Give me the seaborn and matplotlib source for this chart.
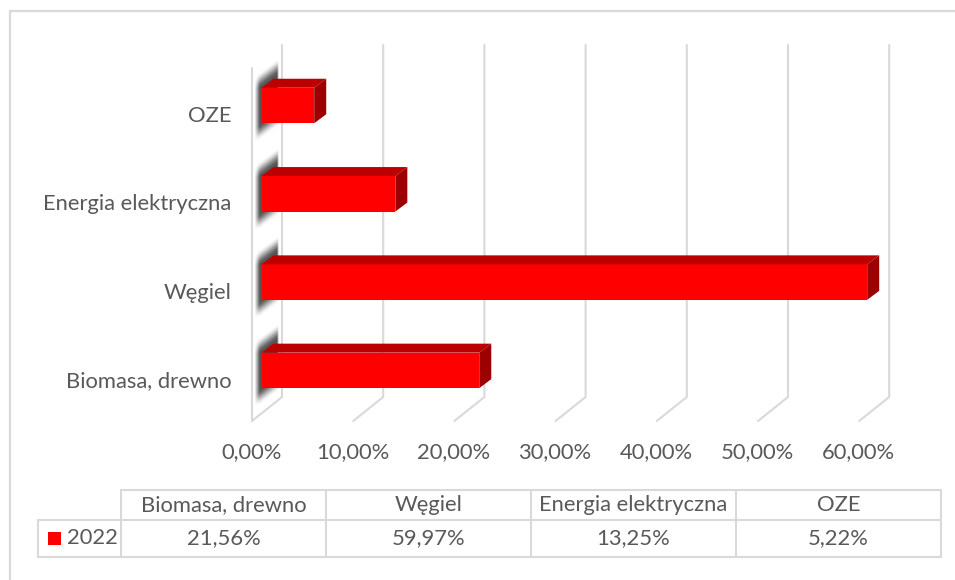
import numpy as np
import pandas as pd
import matplotlib
matplotlib.use("Agg")
import matplotlib.pyplot as plt
from matplotlib.patches import Polygon, Rectangle
from matplotlib.transforms import IdentityTransform, ScaledTranslation
import seaborn as sns

# ---- data ----
categories = ["OZE", "Energia elektryczna", "Węgiel", "Biomasa, drewno"]
values = [5.22, 13.25, 59.97, 21.56]
table_cols = ["Biomasa, drewno", "Węgiel", "Energia elektryczna", "OZE"]
table_vals = ["21,56%", "59,97%", "13,25%", "5,22%"]
series_name = "2022"
x_ticks = [0, 10, 20, 30, 40, 50, 60]
x_labels = ["0,00%", "10,00%", "20,00%", "30,00%", "40,00%", "50,00%", "60,00%"]

W, H = 955, 580
GRID = "#D9D9D9"
TXT = "#595959"
FS = 15.8

sns.set_theme(style="white")
plt.rcParams["font.family"] = ["Lato", "DejaVu Sans"]

fig = plt.figure(figsize=(W / 100, H / 100), dpi=100, facecolor="white")

# overlay in pixel coordinates for frame, wall, floor and table
bg = fig.add_axes([0, 0, 1, 1], zorder=0)
bg.set_xlim(0, W)
bg.set_ylim(H, 0)
bg.axis("off")

# main plot area: 0 % at x=261.5 px, 10.1 px per 1 %, categories 88.3 px apart
X0, PX = 261.5, 10.1
Y0, PY = 105.5, 88.3
left, right = X0, X0 + 66 * PX
top, bot = Y0 - PY / 2, Y0 + 3.5 * PY
ax = fig.add_axes([left / W, 1 - bot / H, (right - left) / W, (bot - top) / H], zorder=2)
ax.patch.set_alpha(0)

df = pd.DataFrame({"cat": categories, "val": values})
sns.barplot(data=df, y="cat", x="val", order=categories, color="#FF0000", saturation=1,
            width=35.5 / PY, linewidth=0, edgecolor="none", ax=ax)
ax.set_xlim(0, 66)
ax.set_ylim(3.5, -0.5)
ax.set_xlabel("")
ax.set_ylabel("")
for s in ax.spines.values():
    s.set_visible(False)
ax.set_xticks(x_ticks)
ax.set_xticklabels(x_labels, fontsize=FS, color=TXT)
ax.tick_params(axis="x", length=0, pad=0)
ax.tick_params(axis="y", length=0, pad=30 * 0.72, labelsize=FS, labelcolor=TXT)
# tick labels sit below the front floor edge, 10 px left of the bar origin
shift = ScaledTranslation(-9.5 / 100, -(442 - bot) / 100, fig.dpi_scale_trans)
for lab in ax.get_xticklabels():
    lab.set_transform(lab.get_transform() + shift)
yshift = ScaledTranslation(0, -8.5 / 100, fig.dpi_scale_trans)
for lab in ax.get_yticklabels():
    lab.set_transform(lab.get_transform() + yshift)

# frame
bg.plot([10, 10, W], [H, 10.5, 10.5], color=GRID, lw=1.6, solid_capstyle="butt")

# gridlines and floor
for t in x_ticks:
    xb = 282 + t * 10.12
    bg.plot([xb, xb, xb - 30], [45, 397, 421], color=GRID, lw=1.5, solid_joinstyle="miter")
bg.plot([252, 252], [68, 421], color=GRID, lw=1.5)

# shadow on the side wall, drawn per bar
DX, DY = 12, 9
fig.canvas.draw()
ny, nx = 200, 52
for p in ax.patches:
    b = p.get_window_extent()
    cy = H - (b.y0 + b.y1) / 2
    yy, xx = np.mgrid[0:ny, 0:nx]
    px_x = 254 + xx * 26 / nx
    px_y = cy - 50 + yy * 100 / ny
    skew = (px_x - 266) * (-0.75)
    d = np.abs(px_y - (cy - 4) - skew)
    u = np.clip((34 - d) / 16, 0, 1)
    a_y = u * u * (3 - 2 * u)
    a_x = np.clip((px_x - 254.5) / 5, 0, 1) * np.clip((278.5 - px_x) / 1.5, 0, 1)
    rgba = np.zeros((ny, nx, 4))
    rgba[..., :3] = 0.33
    rgba[..., 3] = a_y * a_x
    bg.imshow(rgba, extent=(254, 280, cy + 50, cy - 50), aspect="auto", zorder=1,
              interpolation="bilinear")
bg.set_xlim(0, W)
bg.set_ylim(H, 0)

# 3-D faces of each bar, taken from the bar itself
for p in ax.patches:
    b = p.get_window_extent()
    ax.add_patch(Polygon([(b.x0, b.y1), (b.x1, b.y1), (b.x1 + DX, b.y1 + DY), (b.x0 + DX, b.y1 + DY)],
                         closed=True, fc="#BC0000", ec="none", transform=IdentityTransform(),
                         clip_on=False))
    ax.add_patch(Polygon([(b.x1, b.y0), (b.x1, b.y1), (b.x1 + DX, b.y1 + DY), (b.x1 + DX, b.y0 + DY)],
                         closed=True, fc="#9C0000", ec="none", transform=IdentityTransform(),
                         clip_on=False))

# data table
col_x = [121, 326, 531, 736, 941]
y_h, y_m, y_b = 490, 520, 557
bg.plot([121, 941], [y_h, y_h], color=GRID, lw=1.5)
bg.plot([38, 941], [y_m, y_m], color=GRID, lw=1.5)
bg.plot([38, 941], [y_b, y_b], color=GRID, lw=1.5)
bg.plot([38, 38], [y_m, y_b], color=GRID, lw=1.5)
for x in col_x:
    bg.plot([x, x], [y_h, y_b], color=GRID, lw=1.5)
for i, (c, v) in enumerate(zip(table_cols, table_vals)):
    xc = (col_x[i] + col_x[i + 1]) / 2
    bg.text(xc, (y_h + y_m) / 2, c, ha="center", va="center", fontsize=FS, color=TXT)
    bg.text(xc, (y_m + y_b) / 2, v, ha="center", va="center", fontsize=FS, color=TXT)
bg.add_patch(Rectangle((47.5, 531.5), 13, 13, fc="#FF0000", ec="none"))
bg.text(67, (y_m + y_b) / 2, series_name, ha="left", va="center", fontsize=FS, color=TXT)

fig.savefig("out.png", dpi=100, facecolor="white")
